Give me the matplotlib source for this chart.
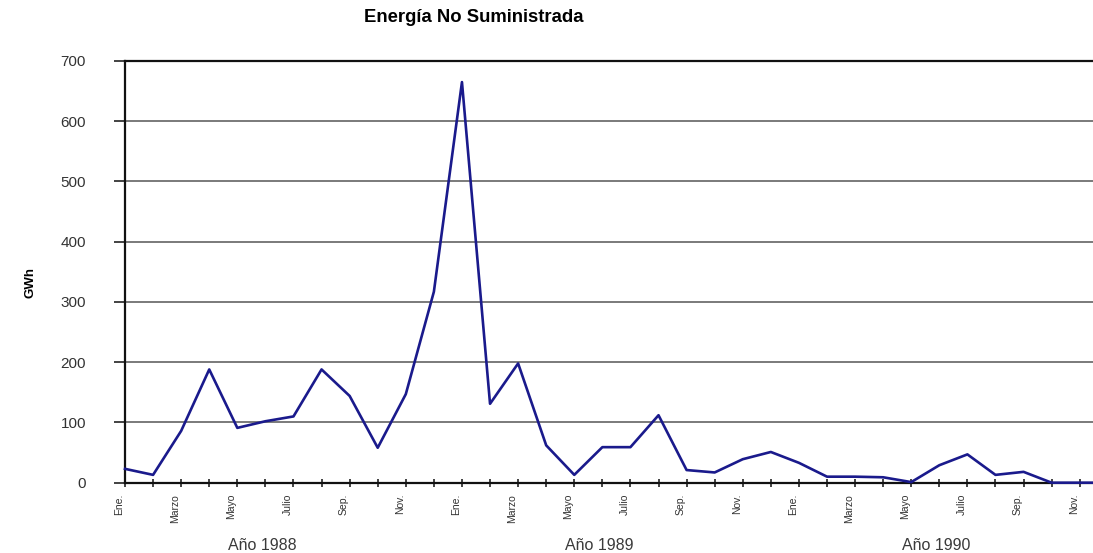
import matplotlib
matplotlib.use("Agg")
import matplotlib.pyplot as plt
import matplotlib.transforms as mtransforms
import numpy as np

# Energia no suministrada, GWh mensual 1988-1990
meses = ['Ene.', 'Feb.', 'Marzo', 'Abr.', 'Mayo', 'Jun.',
         'Julio', 'Ago.', 'Sep.', 'Oct.', 'Nov.', 'Dic.']
anios = ['Año 1988', 'Año 1989', 'Año 1990']
gwh = [23, 13, 86, 188, 91, 102, 110, 188, 144, 58, 147, 317,
       665, 131, 198, 62, 13, 59, 59, 112, 21, 17, 39, 51,
       33, 10, 10, 9, 1, 29, 47, 13, 18, 0, 0, 0]
yticks = [0, 100, 200, 300, 400, 500, 600, 700]

plt.rcParams['font.family'] = ['Liberation Sans', 'DejaVu Sans']

W, H = 1093, 553
fig = plt.figure(figsize=(W / 100, H / 100), dpi=100)

# eje recortado a la derecha, como en el original
x0, x_end = 125, 125 + 35 * 28.08
y_top, y_bot = 61, 482.7
ax = fig.add_axes([x0 / W, (H - y_bot) / H, (x_end - x0) / W, (y_bot - y_top) / H])

x = np.arange(len(gwh))
ax.plot(x, gwh, color='#1a1a8c', linewidth=1.9, zorder=3, clip_on=False)

ax.set_xlim(0, len(gwh) - 1)
ax.set_ylim(0, 700)

ax.set_yticks(yticks)
ax.set_yticklabels([str(v) for v in yticks], fontsize=11, color='#333333')
ax.tick_params(axis='y', direction='out', length=8, width=1.2, pad=20, color='#222222')

etiquetas = []
for i in range(len(gwh)):
    etiquetas.append(meses[i % 12] if i % 2 == 0 else '')
ax.set_xticks(x)
ax.set_xticklabels(etiquetas, rotation=90, fontsize=7.5, color='#333333', va='top')
ax.tick_params(axis='x', direction='inout', length=6, width=1.2, pad=5, color='#222222')
off = mtransforms.ScaledTranslation(-6 / 100, 0, fig.dpi_scale_trans)
for lab in ax.get_xticklabels():
    lab.set_transform(lab.get_transform() + off)

ax.grid(axis='y', color='#7a7a7a', linewidth=1.4)
ax.set_axisbelow(True)
for s in ['left', 'bottom', 'top']:
    ax.spines[s].set_color('#111111')
    ax.spines[s].set_linewidth(1.6)
ax.spines['right'].set_visible(False)

ax.set_ylabel('GWh', fontsize=9.5, fontweight='bold')
ax.yaxis.set_label_coords(-89 / (x_end - x0), 0.475)

fig.text(474 / W, 1 - 18 / H, 'Energía No Suministrada', fontsize=13.3,
         fontweight='bold', ha='center', va='center')

trans = mtransforms.blended_transform_factory(ax.transData, fig.transFigure)
for k, nombre in enumerate(anios):
    ax.text(k * 12 + 4.9, 1 - 545 / H, nombre, transform=trans, fontsize=11.5,
            color='#3a3a3a', ha='center', va='center')

fig.savefig('out.png', dpi=100)
